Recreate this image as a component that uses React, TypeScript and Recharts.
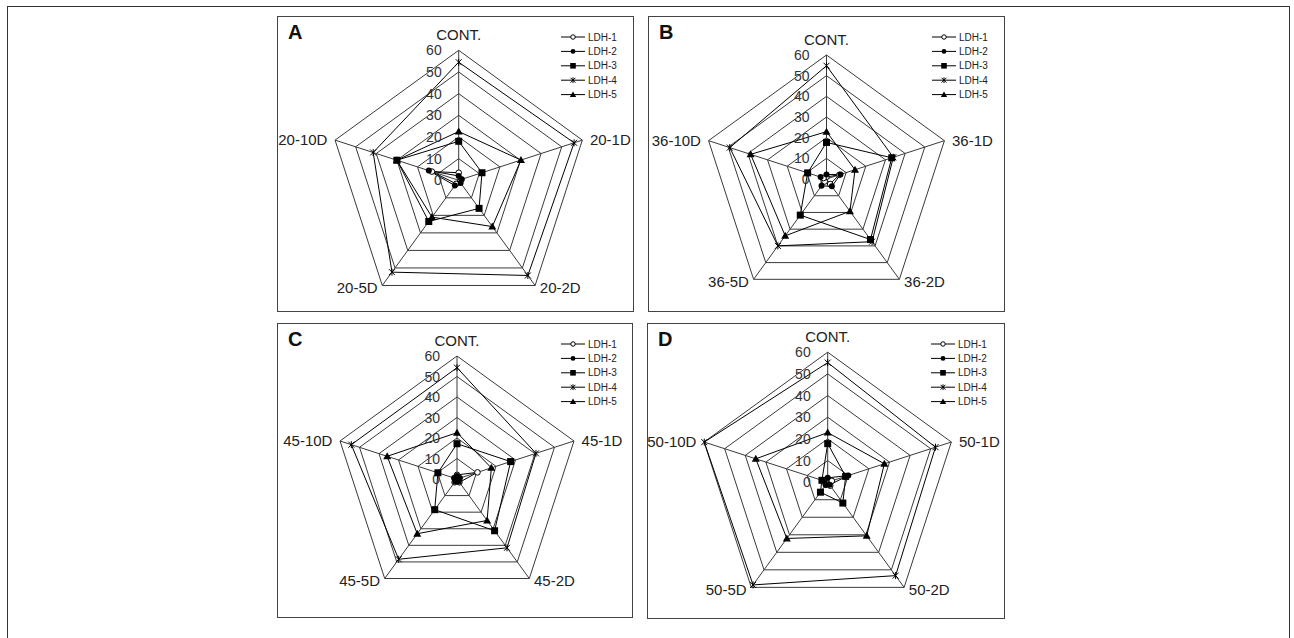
import { PolarAngleAxis, PolarGrid, PolarRadiusAxis, Radar, RadarChart } from "recharts";

const seriesNames = ["LDH-1", "LDH-2", "LDH-3", "LDH-4", "LDH-5"];
const radiusTicks = [0, 10, 20, 30, 40, 50, 60];

// axis order: CONT., 1D, 2D, 5D, 10D (clockwise from top)
const categoriesA = ["CONT.", "20-1D", "20-2D", "20-5D", "20-10D"];
const categoriesB = ["CONT.", "36-1D", "36-2D", "36-5D", "36-10D"];
const categoriesC = ["CONT.", "45-1D", "45-2D", "45-5D", "45-10D"];
const categoriesD = ["CONT.", "50-1D", "50-2D", "50-5D", "50-10D"];

// one row per LDH isoform
const valuesA = [
  [3.5, 1, 1, 2, 13],
  [2, 1.5, 1.5, 3, 14.5],
  [18, 11.3, 16, 23.5, 30],
  [54.5, 56, 54.3, 52.4, 41.5],
  [22.5, 30.2, 26.4, 21, 30],
];
const valuesB = [
  [1, 6.5, 3, 1.5, 1.5],
  [2.2, 7.1, 4.4, 4.1, 3],
  [17.7, 33.2, 36.2, 21.6, 9.6],
  [54.8, 34, 37.5, 40, 49.2],
  [22.9, 14.5, 19.3, 34, 38.6],
];
const valuesC = [
  [2, 10.5, 2, 2, 1],
  [1.5, 1.5, 1.5, 1.5, 1.5],
  [17.2, 27.5, 31.2, 18.5, 9.8],
  [54.3, 40.5, 41.5, 48.4, 54.2],
  [22.6, 17.6, 25, 33, 35.8],
];
const valuesD = [
  [1.5, 2, 2, 1.5, 1],
  [2, 10, 1.5, 1.5, 1.5],
  [17.8, 8.7, 11.9, 5.7, 2.8],
  [55.2, 52.3, 53.3, 58.6, 59.9],
  [22.9, 27.5, 30.6, 32.1, 34.9],
];

const FONT = "'Liberation Sans', Arial, sans-serif";
const GRID = "#3a3a3a";

function Marker({ kind, x, y, s = 1 }: { kind: number; x: number; y: number; s?: number }) {
  if (kind === 0)
    return <circle cx={x} cy={y} r={2.8 * s} fill="#fff" stroke="#000" strokeWidth={1} />;
  if (kind === 1) return <circle cx={x} cy={y} r={3 * s} fill="#000" />;
  if (kind === 2)
    return <rect x={x - 3.5 * s} y={y - 3.5 * s} width={7 * s} height={7 * s} fill="#000" />;
  if (kind === 3) {
    const d = 3 * s;
    return (
      <g stroke="#000" strokeWidth={1}>
        <line x1={x - d} y1={y - d} x2={x + d} y2={y + d} />
        <line x1={x - d} y1={y + d} x2={x + d} y2={y - d} />
        <line x1={x} y1={y - d - 0.5} x2={x} y2={y + d + 0.5} />
      </g>
    );
  }
  const t = 4 * s;
  return <path d={`M${x},${y - t}L${x + t},${y + t * 0.75}L${x - t},${y + t * 0.75}Z`} fill="#000" />;
}

function AngleTick(props: any) {
  const { x, y, index, payload, textAnchor } = props;
  let dy = 1.5;
  if (index === 0) dy = -2;
  else if (index === 1 || index === 4) dy = 7.5;
  return (
    <text x={x} y={y + dy} textAnchor={textAnchor} fontSize={15} fontFamily={FONT} fill="#222">
      {payload.value}
    </text>
  );
}

function RadiusTick(props: any) {
  const { x, y, payload } = props;
  return (
    <text x={x - 17} y={y + 5} textAnchor="end" fontSize={14} fontFamily={FONT} fill="#333">
      {payload.value}
    </text>
  );
}

interface PanelProps {
  letter: string;
  left: number;
  top: number;
  width: number;
  height: number;
  cx: number;
  cy: number;
  r: number;
  categories: string[];
  values: number[][];
}

function Panel({ letter, left, top, width, height, cx, cy, r, categories, values }: PanelProps) {
  const data = categories.map((axis, k) => {
    const row: Record<string, string | number> = { axis };
    seriesNames.forEach((name, i) => {
      row[name] = values[i][k];
    });
    return row;
  });

  return (
    <div style={{ position: "absolute", left, top, width, height }}>
      <RadarChart
        width={width}
        height={height}
        data={data}
        cx={cx}
        cy={cy}
        outerRadius={r}
        margin={{ top: 0, right: 0, bottom: 0, left: 0 }}
      >
        <PolarGrid gridType="polygon" stroke={GRID} strokeOpacity={1} />
        <PolarAngleAxis dataKey="axis" tick={AngleTick} tickLine={false} axisLine={false} />
        <PolarRadiusAxis
          angle={90}
          type="number"
          domain={[0, 60]}
          ticks={radiusTicks as any}
          tickCount={7}
          axisLine={false}
          tickLine={false}
          tick={RadiusTick}
        />
        {seriesNames.map((name, i) => (
          <Radar
            key={name}
            dataKey={name}
            stroke="#000"
            strokeWidth={1}
            fill="none"
            fillOpacity={0}
            isAnimationActive={false}
            dot={(p: any) => <Marker key={`${name}-${p.index}`} kind={i} x={p.cx} y={p.cy} />}
          />
        ))}
      </RadarChart>

      <svg
        width={80}
        height={80}
        style={{ position: "absolute", left: 280, top: 12 }}
      >
        {seriesNames.map((name, i) => {
          const y = 9 + i * 14.4;
          return (
            <g key={name}>
              <line x1={4} y1={y} x2={28} y2={y} stroke="#000" strokeWidth={1} />
              <Marker kind={i} x={16} y={y} s={0.8} />
              <text x={31} y={y + 3.5} fontSize={10} fontFamily={FONT} fill="#222">
                {name}
              </text>
            </g>
          );
        })}
      </svg>

      <div
        style={{
          position: "absolute",
          left: 11,
          top: 5,
          fontFamily: FONT,
          fontWeight: "bold",
          fontSize: 20,
          color: "#111",
        }}
      >
        {letter}
      </div>
      <div
        style={{
          position: "absolute",
          inset: 0,
          border: "1px solid #444",
          pointerEvents: "none",
        }}
      />
    </div>
  );
}

export default function App() {
  return (
    <div style={{ position: "absolute", left: 0, top: 0, width: 1294, height: 638, background: "#fff", overflow: "hidden" }}>
      <div
        style={{
          position: "absolute",
          left: 7,
          top: 6,
          width: 1281,
          height: 640,
          border: "1px solid #333",
        }}
      />
      <Panel letter="A" left={277} top={16} width={357} height={296} cx={181.7} cy={164.3} r={130} categories={categoriesA} values={valuesA} />
      <Panel letter="B" left={648} top={16} width={357} height={296} cx={178.5} cy={163} r={124} categories={categoriesB} values={valuesB} />
      <Panel letter="C" left={277} top={323} width={356} height={295} cx={180} cy={156} r={123} categories={categoriesC} values={valuesC} />
      <Panel letter="D" left={647} top={323} width={358} height={296} cx={180.7} cy={159.2} r={130} categories={categoriesD} values={valuesD} />
    </div>
  );
}
